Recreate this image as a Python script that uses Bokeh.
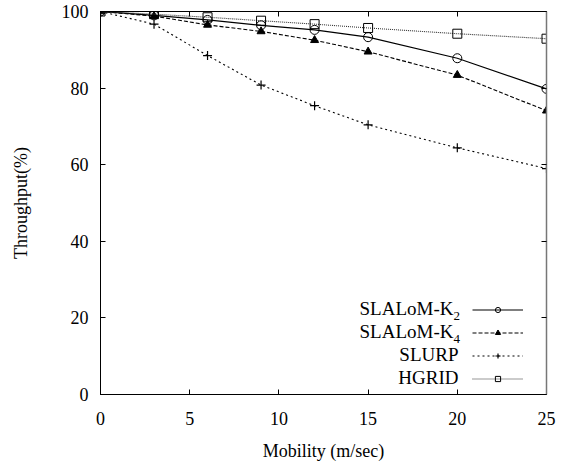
from bokeh.plotting import figure
from bokeh.models import Range1d, LinearAxis, Legend, LegendItem, Label, FixedTicker
from bokeh.embed import file_html
from bokeh.resources import INLINE

mobility = [0, 3, 6, 9, 12, 15, 20, 25]
slalom_k2 = [100, 99.0, 97.8, 96.4, 95.2, 93.3, 87.8, 79.8]
slalom_k4 = [100, 98.8, 96.5, 94.8, 92.5, 89.5, 83.4, 74.1]
slurp = [100, 96.7, 88.5, 80.8, 75.4, 70.4, 64.4, 59.0]
hgrid = [100, 99.3, 98.5, 97.6, 96.7, 95.7, 94.2, 92.9]
x_ticks = [0, 5, 10, 15, 20, 25]
y_ticks = [0, 20, 40, 60, 80, 100]

FONT = "Liberation Serif"

p = figure(width=570, height=468, output_backend="svg", toolbar_location=None,
           x_range=Range1d(0, 25), y_range=Range1d(0, 100),
           min_border_left=100, min_border_right=24, min_border_top=11, min_border_bottom=74)
p.grid.visible = False
p.outline_line_color = "black"
p.outline_line_width = 1
p.background_fill_color = "white"
p.border_fill_color = "white"

xa = p.xaxis[0]
xa.ticker = FixedTicker(ticks=x_ticks)
ya = p.yaxis[0]
ya.ticker = FixedTicker(ticks=y_ticks)
for ax in (xa, ya):
    ax.major_tick_in = 5
    ax.major_tick_out = 0
    ax.minor_tick_line_color = None
    ax.axis_line_color = "black"
    ax.major_tick_line_color = "black"
    ax.major_label_text_font = FONT
    ax.major_label_text_font_size = "18px"
    ax.major_label_text_color = "black"
    ax.axis_label_text_font = FONT
    ax.axis_label_text_font_size = "18px"
    ax.axis_label_text_font_style = "normal"
    ax.axis_label_text_color = "black"
xa.axis_label = "Mobility (m/sec)"
ya.axis_label = "Throughput(%)"
xa.major_label_standoff = 17
xa.axis_label_standoff = 13
ya.major_label_standoff = 12
ya.axis_label_standoff = 28

top = LinearAxis(ticker=FixedTicker(ticks=x_ticks),
                 major_label_overrides={t: "" for t in x_ticks})
right = LinearAxis(ticker=FixedTicker(ticks=y_ticks),
                   major_label_overrides={t: "" for t in y_ticks})
for ax in (top, right):
    ax.major_tick_in = 5
    ax.major_tick_out = 0
    ax.minor_tick_line_color = None
    ax.major_label_standoff = 0
    ax.axis_line_color = "black"
    ax.major_tick_line_color = "black"
right.axis_line_color = "#777777"
right.axis_line_width = 1.5
p.add_layout(top, "above")
p.add_layout(right, "right")

l1 = p.line(mobility, slalom_k2, line_color="black", line_width=1.2)
m1 = p.scatter(mobility, slalom_k2, marker="circle", size=9, line_color="black", fill_color=None, line_width=1)
l2 = p.line(mobility, slalom_k4, line_color="black", line_width=1.1, line_dash="4 2")
m2 = p.scatter(mobility, slalom_k4, marker="triangle", size=8, line_color="black", fill_color="black", line_width=1)
l3 = p.line(mobility, slurp, line_color="black", line_width=1.1, line_dash="2 3")
m3 = p.scatter(mobility, slurp, marker="cross", size=9, line_color="black", line_width=1.2)
l4 = p.line(mobility, hgrid, line_color="#333333", line_width=1.1, line_dash="1 1")
m4 = p.scatter(mobility, hgrid, marker="square", size=9, line_color="black", fill_color=None, line_width=1)

legend = Legend(items=[
    LegendItem(label=" ", renderers=[l1, m1]),
    LegendItem(label=" ", renderers=[l2, m2]),
    LegendItem(label=" ", renderers=[l3, m3]),
    LegendItem(label=" ", renderers=[l4, m4]),
], location=(372, 5), padding=0, margin=0, spacing=1, glyph_height=13, glyph_width=51,
   label_height=22, label_width=0, label_standoff=0, label_text_font_size="12px",
   border_line_color=None, background_fill_alpha=0)
p.add_layout(legend, "center")

# legend texts (right-aligned, gnuplot style), positions in frame pixels
rows = [(86, "SLALoM-K", "2"), (63, "SLALoM-K", "4"), (40, "SLURP", None), (17, "HGRID", None)]
for ys, txt, sub in rows:
    right_x = 353 if sub else 358
    p.add_layout(Label(x=right_x, y=ys, x_units="screen", y_units="screen", text=txt,
                       text_align="right", text_baseline="middle", text_font=FONT,
                       text_font_size="19px", text_color="black"))
    if sub:
        p.add_layout(Label(x=353, y=ys - 7, x_units="screen", y_units="screen", text=sub,
                           text_align="left", text_baseline="middle", text_font=FONT,
                           text_font_size="13px", text_color="black"))

open("out.html", "w").write(file_html(p, INLINE))
